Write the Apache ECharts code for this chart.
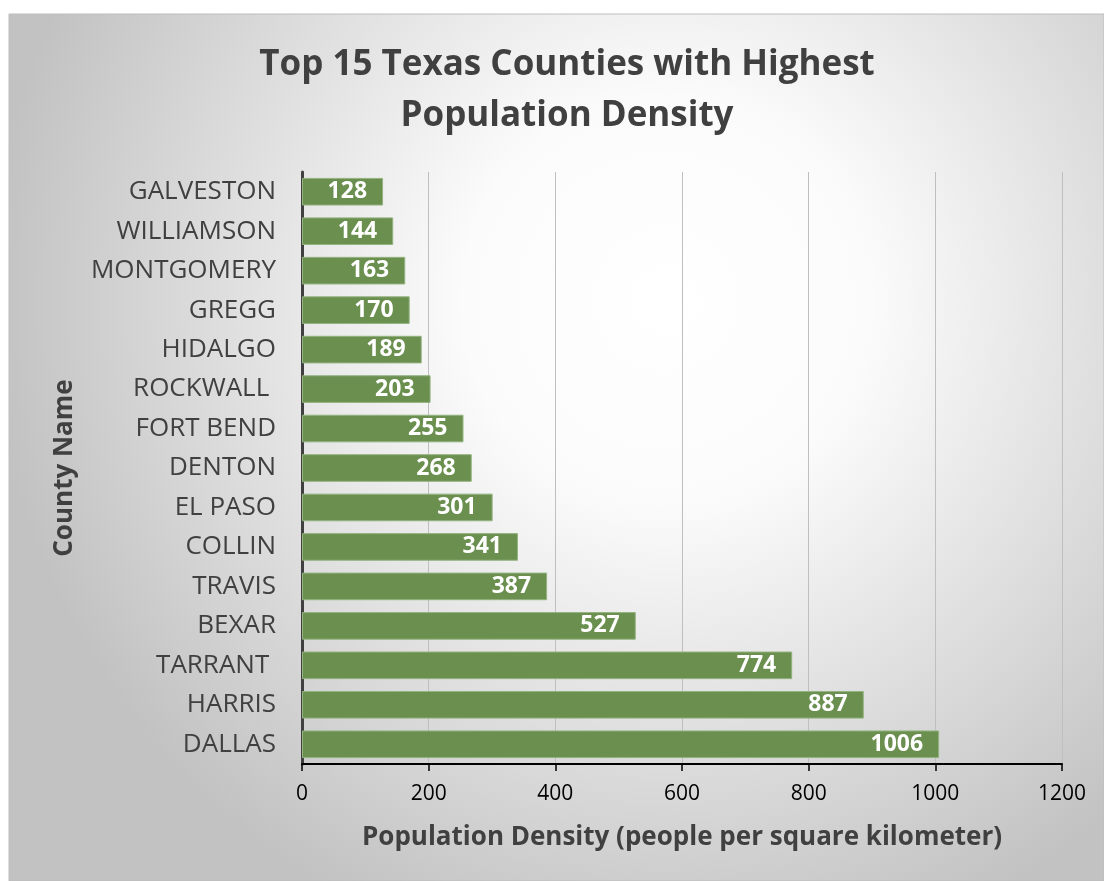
<!DOCTYPE html>
<html><head><meta charset="utf-8">
<script src="https://cdn.jsdelivr.net/npm/echarts@6/dist/echarts.min.js"></script>
<style>html,body{margin:0;padding:0;background:#fff}#c{width:1104px;height:881px}</style>
</head><body><div id="c"></div>
<script>
const counties = ['GALVESTON','WILLIAMSON','MONTGOMERY','GREGG','HIDALGO','ROCKWALL ','FORT BEND','DENTON','EL PASO','COLLIN','TRAVIS','BEXAR','TARRANT ','HARRIS','DALLAS'];
const density = [128,144,163,170,189,203,255,268,301,341,387,527,774,887,1006];
const xTicks = [0,200,400,600,800,1000,1200];

const chart = echarts.init(document.getElementById('c'));
const F = '"Open Sans", "Noto Sans", sans-serif';
chart.setOption({
  animation:false,
  graphic:[{type:'rect',z:-10,shape:{x:9,y:14,width:1095,height:867},
    style:{fill:{type:'radial',x:0.6,y:0.33,r:0.78,colorStops:[{offset:0,color:'#ffffff'},{offset:0.3,color:'#fbfbfb'},{offset:1,color:'#c2c2c2'}]},
    stroke:'#bdbdbd',lineWidth:1}}],
  title:{text:'Top 15 Texas Counties with Highest\nPopulation Density',left:562,top:35,textAlign:'center',
    textStyle:{fontFamily:F,fontWeight:'bold',fontSize:35,color:'#404040',lineHeight:51}},
  grid:{left:302,right:42,top:172,bottom:117,containLabel:false},
  xAxis:{type:'value',min:0,max:1200,interval:200,
    name:'Population Density (people per square kilometer)',nameLocation:'middle',nameGap:61,
    nameTextStyle:{fontFamily:F,fontWeight:'bold',fontSize:26,color:'#404040'},
    axisLine:{show:true,lineStyle:{color:'#000',width:2}},
    axisTick:{show:true,length:7,lineStyle:{color:'#000',width:1.5}},
    axisLabel:{fontFamily:F,fontSize:21,color:'#000',margin:20,formatter:v=>xTicks.includes(v)?String(v):''},
    splitLine:{show:true,lineStyle:{color:'#bfbfbf',width:1}}},
  yAxis:{type:'category',data:counties,inverse:true,
    name:'County Name',nameLocation:'middle',nameGap:224,nameRotate:90,
    nameTextStyle:{fontFamily:F,fontWeight:'bold',fontSize:26,color:'#404040'},
    axisLine:{show:true,lineStyle:{color:'#404040',width:3}},
    axisTick:{show:false},
    axisLabel:{fontFamily:F,fontSize:26,color:'#404040',margin:26}},
  series:[{type:'bar',data:density,barCategoryGap:'30%',
    itemStyle:{color:'#6a8f4f',borderColor:'#93b37f',borderWidth:1},
    label:{show:true,position:'insideRight',distance:16,fontFamily:F,fontWeight:'bold',fontSize:23,color:'#fff'}}]
});
</script></body></html>
